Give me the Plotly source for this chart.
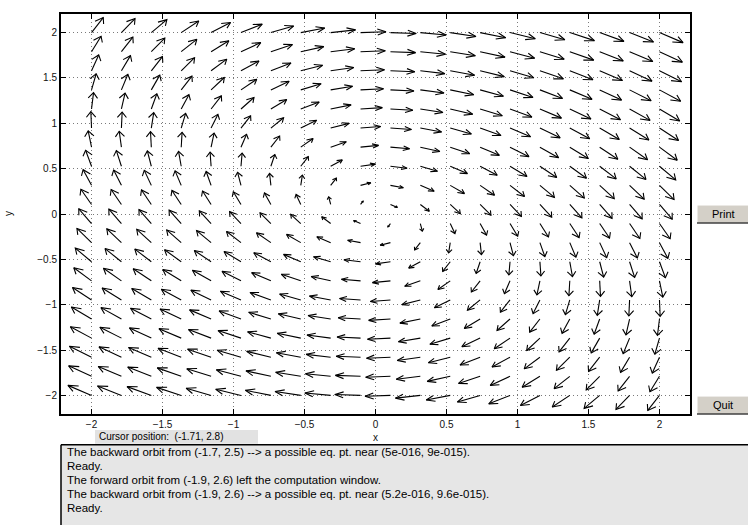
import math
import plotly.graph_objects as go

# ---------------- data ----------------
# field sample points (pplane grid, 20 x 20)
x_points = [-2.0, -1.7895, -1.5789, -1.3684, -1.1579, -0.9474, -0.7368, -0.5263, -0.3158, -0.1053,
            0.1053, 0.3158, 0.5263, 0.7368, 0.9474, 1.1579, 1.3684, 1.5789, 1.7895, 2.0]
y_points = [-2.0, -1.7895, -1.5789, -1.3684, -1.1579, -0.9474, -0.7368, -0.5263, -0.3158, -0.1053,
            0.1053, 0.3158, 0.5263, 0.7368, 0.9474, 1.1579, 1.3684, 1.5789, 1.7895, 2.0]
# system  x' = a*x + b*y ,  y' = c*x + d*y   (read from the arrows)
coef_a, coef_b = 0.5, 1.0
coef_c, coef_d = -1.0, 0.0

tick_vals = [-2, -1.5, -1, -0.5, 0, 0.5, 1, 1.5, 2]
tick_text = ["\u22122", "\u22121.5", "\u22121", "\u22120.5", "0", "0.5", "1", "1.5", "2"]

messages = [
    "The backward orbit from (-1.7, 2.5) --> a possible eq. pt. near (5e-016, 9e-015).",
    "Ready.",
    "The forward orbit from (-1.9, 2.6) left the computation window.",
    "The backward orbit from (-1.9, 2.6) --> a possible eq. pt. near (5.2e-016, 9.6e-015).",
    "Ready.",
]
cursor_text = "Cursor position:  (-1.71, 2.8)"

# ---------------- arrow geometry ----------------
ARROW_MAX = 0.23
ARROW_HALF = 0.55
HEAD_FRAC = 0.38
HEAD_ANG = 0.50

ax_, ay_ = [], []
for x in x_points:
    for y in y_points:
        u = coef_a * x + coef_b * y
        w = coef_c * x + coef_d * y
        m = math.hypot(u, w)
        if m == 0:
            continue
        L = ARROW_MAX * m / (m + ARROW_HALF)
        ux, uy = u / m, w / m
        tx, ty = x + L * ux, y + L * uy
        hl = HEAD_FRAC * L
        bx, by = -ux, -uy
        pts = []
        for s in (1, -1):
            ca, sa = math.cos(s * HEAD_ANG), math.sin(s * HEAD_ANG)
            rx = bx * ca - by * sa
            ry = bx * sa + by * ca
            pts.append((tx + hl * rx, ty + hl * ry))
        ax_ += [x, tx, None, pts[0][0], tx, pts[1][0], None]
        ay_ += [y, ty, None, pts[0][1], ty, pts[1][1], None]

fig = go.Figure()
fig.add_trace(go.Scatter(x=ax_, y=ay_, mode="lines",
                         line=dict(color="black", width=1.1),
                         hoverinfo="skip", showlegend=False))

# ---------------- layout ----------------
W, H = 748, 525
L_PX, R_PX, T_PX, B_PX = 61, 690, 12, 414


def px(xp):
    return (xp - L_PX) / (R_PX - L_PX)


def py(yp):
    return (B_PX - yp) / (B_PX - T_PX)


axis_common = dict(
    showgrid=True, gridcolor="#7a7a7a", griddash="1px,3px", gridwidth=1,
    zeroline=False, showline=True, linecolor="black", linewidth=2,
    mirror="ticks", ticks="inside", ticklen=5, tickwidth=1, tickcolor="black",
    tickfont=dict(family="Liberation Sans, Arial, sans-serif", size=10, color="#111"),
    tickmode="array", tickvals=tick_vals, ticktext=tick_text,
)

fig.update_layout(
    width=W, height=H, autosize=False,
    margin=dict(l=L_PX, r=W - R_PX, t=T_PX, b=H - B_PX, pad=0),
    plot_bgcolor="white", paper_bgcolor="white",
    xaxis=dict(range=[-2.215, 2.215], **axis_common),
    yaxis=dict(range=[-2.205, 2.205], **axis_common),
    showlegend=False,
)

shapes = []
annos = []

MSG_TOP = 445
# message box
shapes.append(dict(type="rect", xref="paper", yref="paper",
                   x0=px(61), x1=px(749), y0=py(526), y1=py(MSG_TOP),
                   fillcolor="#e6e6e6", line=dict(width=0), layer="below"))
shapes.append(dict(type="line", xref="paper", yref="paper",
                   x0=px(61), x1=px(749), y0=py(MSG_TOP), y1=py(MSG_TOP),
                   line=dict(color="black", width=1.5)))
shapes.append(dict(type="line", xref="paper", yref="paper",
                   x0=px(61), x1=px(61), y0=py(MSG_TOP), y1=py(526),
                   line=dict(color="black", width=1.5)))
# cursor box
shapes.append(dict(type="rect", xref="paper", yref="paper",
                   x0=px(95), x1=px(258), y0=py(444), y1=py(430),
                   fillcolor="#e2e2e2", line=dict(width=0), layer="below"))

# buttons
for (y0b, y1b, label) in [(204, 222, "Print"), (396, 414, "Quit")]:
    shapes.append(dict(type="rect", xref="paper", yref="paper",
                       x0=px(697), x1=px(749), y0=py(y1b), y1=py(y0b),
                       fillcolor="#d4d0c8", line=dict(width=0)))
    shapes.append(dict(type="line", xref="paper", yref="paper",
                       x0=px(697), x1=px(749), y0=py(y0b), y1=py(y0b),
                       line=dict(color="white", width=1)))
    shapes.append(dict(type="line", xref="paper", yref="paper",
                       x0=px(697), x1=px(697), y0=py(y0b), y1=py(y1b),
                       line=dict(color="white", width=1)))
    shapes.append(dict(type="line", xref="paper", yref="paper",
                       x0=px(697), x1=px(749), y0=py(y1b), y1=py(y1b),
                       line=dict(color="#404040", width=1.5)))
    annos.append(dict(text=label, xref="paper", yref="paper",
                      x=px(723), y=py((y0b + y1b) / 2), xanchor="center", yanchor="middle",
                      showarrow=False,
                      font=dict(family="Liberation Sans, Arial, sans-serif", size=11, color="black")))

# axis titles
annos.append(dict(text="x", xref="paper", yref="paper", x=px(376), y=py(438),
                  xanchor="center", yanchor="middle", showarrow=False,
                  font=dict(family="Liberation Sans, Arial", size=10, color="#111")))
annos.append(dict(text="y", xref="paper", yref="paper", x=px(8), y=py(213),
                  xanchor="center", yanchor="middle", showarrow=False, textangle=-90,
                  font=dict(family="Liberation Sans, Arial", size=10, color="#111")))

# cursor text
annos.append(dict(text=cursor_text, xref="paper", yref="paper", x=px(97), y=py(437),
                  xanchor="left", yanchor="middle", showarrow=False,
                  font=dict(family="Liberation Sans, Arial", size=10, color="black")))

# message lines
for i, msg in enumerate(messages):
    annos.append(dict(text=msg, xref="paper", yref="paper", x=px(65), y=py(452 + 14.2 * i),
                      xanchor="left", yanchor="middle", showarrow=False,
                      font=dict(family="Liberation Sans, Arial", size=11.5, color="black")))

fig.update_layout(shapes=shapes, annotations=annos)

fig.write_html("out.html", config={"displayModeBar": False},
               post_script="document.body.style.margin='0';")
